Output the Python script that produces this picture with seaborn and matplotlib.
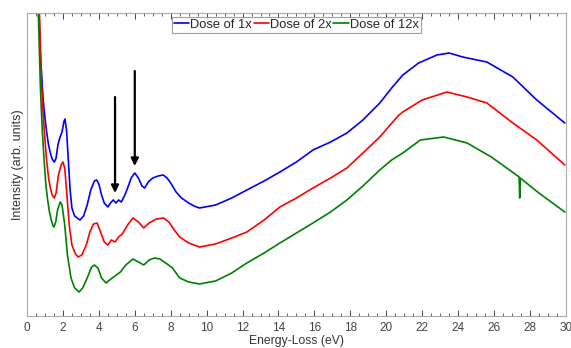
import numpy as np
import pandas as pd
import matplotlib
matplotlib.use("Agg")
import matplotlib.pyplot as plt
import seaborn as sns
from matplotlib.ticker import MultipleLocator

# Energy-loss (eV) and intensity (arb. units)
e_1x = [0.50, 0.67, 0.75, 0.80, 0.90, 1.00, 1.10, 1.20, 1.30, 1.40, 1.52, 1.62, 1.72, 1.84, 1.95, 2.05, 2.11,
        2.20, 2.30, 2.40, 2.50, 2.65, 2.80, 2.95, 3.15, 3.35, 3.55, 3.75, 3.88, 4.00, 4.15, 4.30, 4.50,
        4.65, 4.80, 4.95, 5.10, 5.25, 5.45, 5.60, 5.80, 6.00, 6.20, 6.40, 6.55, 6.75, 7.00, 7.30, 7.58,
        7.80, 8.00, 8.30, 8.60, 9.00, 9.30, 9.60, 9.90, 10.5, 11.4, 12.24, 13.2, 14.08, 15.0, 15.92, 16.9,
        17.81, 18.7, 19.64, 20.3, 20.92, 21.8, 22.82, 23.5, 24.26, 25.6, 27.05, 28.38, 29.94]
i_1x = [420, 303, 260, 246, 216, 198, 183, 171, 163, 157, 154, 158, 171, 179, 184, 194, 197,
        186, 156, 126, 108, 100, 98, 96, 100, 111, 126, 135, 136, 132, 121, 113, 109,
        113, 116, 113, 116, 114, 121, 128, 138, 143, 138, 130, 128, 134, 138, 140, 141,
        138, 133, 124, 118, 113, 110, 108, 109, 111, 118, 126, 135, 144, 154, 166, 174,
        183, 196, 213, 228, 241, 253, 261, 263, 259, 254, 239, 216, 193]

e_2x = [0.50, 0.69, 0.80, 0.90, 1.00, 1.10, 1.20, 1.30, 1.40, 1.52, 1.62, 1.75, 1.90, 2.00, 2.10,
        2.20, 2.35, 2.50, 2.70, 2.85, 3.05, 3.30, 3.50, 3.70, 3.90, 4.05, 4.30, 4.50, 4.70, 4.90,
        5.10, 5.30, 5.60, 5.90, 6.20, 6.50, 6.80, 7.20, 7.60, 7.90, 8.20, 8.50, 9.00, 9.60, 10.5,
        11.4, 12.24, 13.2, 14.08, 15.0, 15.92, 16.9, 17.81, 18.7, 19.64, 20.65, 20.92, 22.0, 23.37,
        24.5, 25.6, 27.05, 28.38, 29.94]
i_2x = [420, 303, 236, 201, 176, 154, 138, 128, 121, 118, 123, 141, 151, 154, 148,
        126, 91, 71, 62, 59, 61, 71, 84, 92, 93, 86, 74, 71, 76, 74,
        79, 82, 91, 98, 94, 88, 93, 97, 98, 94, 86, 79, 73, 69, 72,
        78, 84, 96, 109, 118, 128, 138, 148, 163, 179, 200, 204, 216, 224,
        219, 213, 193, 176, 151]

e_12x = [0.45, 0.63, 0.75, 0.85, 0.95, 1.05, 1.15, 1.25, 1.35, 1.45, 1.50, 1.60, 1.70, 1.85, 1.95,
         2.10, 2.25, 2.45, 2.65, 2.90, 3.10, 3.35, 3.60, 3.75, 3.95, 4.15, 4.40, 4.60, 4.90, 5.20,
         5.50, 5.90, 6.20, 6.50, 6.80, 7.10, 7.40, 7.80, 8.10, 8.50, 9.00, 9.60, 10.5, 11.4, 12.24,
         13.2, 14.08, 15.0, 15.92, 16.9, 17.81, 18.7, 19.64, 20.3, 20.92, 21.9, 23.2, 24.5, 25.85,
         27.40, 27.43, 27.46, 28.5, 29.94]
i_12x = [420, 303, 226, 186, 156, 131, 116, 104, 96, 90, 89, 94, 106, 114, 111,
         91, 61, 38, 28, 24, 28, 38, 49, 51, 48, 38, 33, 36, 40, 44,
         51, 57, 54, 51, 56, 58, 57, 52, 48, 38, 34, 32, 35, 43, 53,
         63, 73, 83, 93, 104, 116, 130, 146, 156, 163, 176, 179, 173, 159,
         139, 118, 138, 123, 104]

series_names = ["Dose of 1x", "Dose of 2x", "Dose of 12x"]
series_colors = ["#0000ff", "#ff0000", "#008000"]
x_ticks = list(range(0, 31, 2))
arrow_x = [4.9, 6.0]
arrow_tail = [219, 245]
arrow_head = [123, 150]

frames = []
for name, e, i in zip(series_names, [e_1x, e_2x, e_12x], [i_1x, i_2x, i_12x]):
    frames.append(pd.DataFrame({"Energy": e, "Intensity": i, "Series": name}))
df = pd.concat(frames, ignore_index=True)

sns.set_theme(style="white")
plt.rcParams["font.family"] = ["Liberation Sans", "DejaVu Sans"]

fig = plt.figure(figsize=(5.71, 3.48), dpi=100)
ax = fig.add_axes([0.0473, 0.092, 0.9437, 0.8706])

sns.lineplot(data=df, x="Energy", y="Intensity", hue="Series", palette=series_colors,
             hue_order=series_names, estimator=None, sort=False, linewidth=1.2, ax=ax)

for xa, yt, yh in zip(arrow_x, arrow_tail, arrow_head):
    ax.annotate("", xy=(xa, yh), xytext=(xa, yt),
                arrowprops=dict(arrowstyle="-|>", color="black", lw=1.6, mutation_scale=11,
                                shrinkA=0, shrinkB=0))

ax.set_xlim(0, 30)
ax.set_ylim(0, 303)
ax.set_xticks(x_ticks)
ax.xaxis.set_minor_locator(MultipleLocator(0.5))
ax.set_yticks([])
ax.tick_params(axis="x", which="both", direction="in", top=True, bottom=True,
               colors="#444444", labelsize=8.5, pad=4)
ax.tick_params(axis="x", which="major", length=4, width=0.7)
ax.tick_params(axis="x", which="minor", length=2, width=0.6)
for s in ax.spines.values():
    s.set_color("#aaaaaa")
    s.set_linewidth(0.8)
    s.set_visible(True)

ax.set_xlabel("Energy-Loss (eV)", fontsize=8.7, color="#333333", labelpad=0.8)
ax.set_ylabel("Intensity (arb. units)", fontsize=9, color="#333333", labelpad=2)

leg = ax.legend(loc="upper center", ncol=3, fontsize=9.3, handlelength=1.2, handletextpad=0.1,
                columnspacing=0.1, borderpad=0.15, borderaxespad=0.3, frameon=True,
                fancybox=False, bbox_to_anchor=(0.5, 1.0))
leg.get_frame().set_edgecolor("#888888")
leg.get_frame().set_linewidth(0.8)
for line in leg.get_lines():
    line.set_linewidth(1.2)

fig.savefig("out.png", dpi=100)
